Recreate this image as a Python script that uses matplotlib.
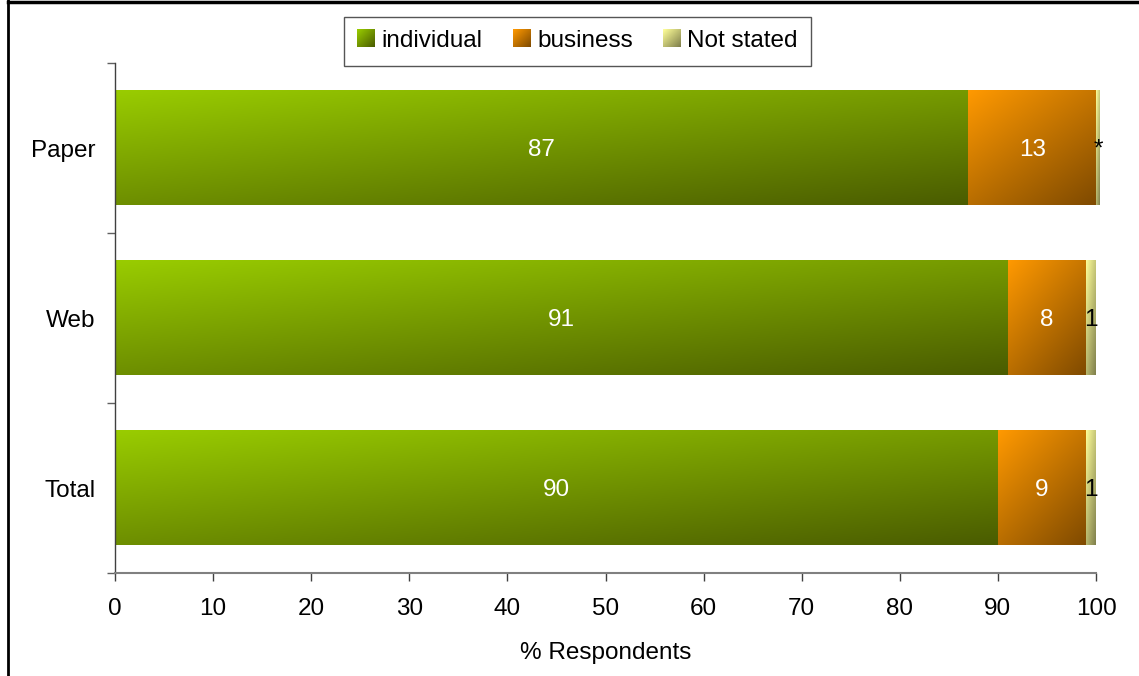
import numpy as np
import matplotlib
matplotlib.use("Agg")
import matplotlib.pyplot as plt
from matplotlib.colors import to_rgb
from matplotlib.patches import Rectangle
from matplotlib.legend_handler import HandlerBase
from matplotlib.image import BboxImage
from matplotlib.transforms import Bbox, TransformedBbox
from matplotlib.lines import Line2D

# Data
categories = ["Paper", "Web", "Total"]
series_names = ["individual", "business", "Not stated"]
individual = [87, 91, 90]
business = [13, 8, 9]
not_stated = [0.4, 1, 1]
not_stated_labels = ["*", "1", "1"]
x_ticks = [0, 10, 20, 30, 40, 50, 60, 70, 80, 90, 100]
x_label = "% Respondents"

# Gradient colour pairs (light top-left -> dark bottom-right)
gradients = {
    "individual": ("#99CC00", "#4A5C00"),
    "business": ("#FF9900", "#7F4A00"),
    "Not stated": ("#FFFF99", "#7F7F4C"),
}

plt.rcParams["font.family"] = ["Liberation Sans", "DejaVu Sans"]
FS = 17.5


def gradient_image(c0, c1, nx=120, ny=60, wu=0.45, wv=0.55):
    a = np.array(to_rgb(c0))
    b = np.array(to_rgb(c1))
    u = np.linspace(0, 1, nx)[None, :]
    v = np.linspace(0, 1, ny)[:, None]
    t = wu * u + wv * v
    return a[None, None, :] * (1 - t[..., None]) + b[None, None, :] * t[..., None]


fig = plt.figure(figsize=(11.39, 6.76), dpi=100)
ax = fig.add_axes([115 / 1139, 1 - 573 / 676, (1096 - 115) / 1139, (573 - 63) / 676])

bar_h = 0.676

for i, cat in enumerate(categories):
    left = 0.0
    for name, vals in zip(series_names, [individual, business, not_stated]):
        w = vals[i]
        c0, c1 = gradients[name]
        img = gradient_image(c0, c1)
        im = ax.imshow(img, extent=(left, left + w, i + bar_h / 2, i - bar_h / 2),
                       aspect="auto", interpolation="bilinear", zorder=2)
        im.set_clip_on(False)
        left += w
    # value labels
    y_lab = i + 0.01
    ax.text(individual[i] / 2, y_lab, f"{individual[i]:g}", color="white",
            ha="center", va="center", fontsize=FS, zorder=4)
    ax.text(individual[i] + business[i] / 2, y_lab, f"{business[i]:g}", color="white",
            ha="center", va="center", fontsize=FS, zorder=4)
    ax.text(individual[i] + business[i] + not_stated[i] / 2, y_lab, not_stated_labels[i],
            color="black", ha="center", va="center", fontsize=FS, zorder=4)

ax.set_xlim(0, 100)
ax.set_ylim(2.5, -0.5)

# Axes styling
for s in ["top", "right"]:
    ax.spines[s].set_visible(False)
ax.spines["left"].set_color("#404040")
ax.spines["bottom"].set_color("#808080")
ax.spines["left"].set_linewidth(1.0)
ax.spines["bottom"].set_linewidth(1.5)

ax.set_xticks(x_ticks)
ax.set_xticklabels([str(v) for v in x_ticks], fontsize=FS)
ax.tick_params(axis="x", direction="out", length=6, width=1, color="#404040", pad=12)

ax.set_yticks(range(len(categories)))
ax.set_yticklabels(categories, fontsize=FS)
ax.tick_params(axis="y", which="major", length=0, pad=14)
ax.set_yticks([-0.5, 0.5, 1.5, 2.5], minor=True)
ax.tick_params(axis="y", which="minor", direction="out", length=6, width=1, color="#606060")

xl = ax.set_xlabel(x_label, fontsize=FS)
xl.set_verticalalignment("center")
ax.xaxis.set_label_coords(0.5, -(653 - 573) / 510)


# Legend with gradient swatches
class GradientHandler(HandlerBase):
    def __init__(self, c0, c1):
        super().__init__()
        self.c0, self.c1 = c0, c1

    def create_artists(self, legend, orig_handle, xdescent, ydescent, width, height, fontsize, trans):
        bb = TransformedBbox(Bbox.from_bounds(-xdescent, -ydescent, width, height), trans)
        im = BboxImage(bb, interpolation="bilinear")
        im.set_data(gradient_image(self.c0, self.c1, 20, 20, 0.5, 0.5))
        return [im]


proxies = [Rectangle((0, 0), 1, 1) for _ in series_names]
hmap = {p: GradientHandler(*gradients[n]) for p, n in zip(proxies, series_names)}
leg = fig.legend(proxies, series_names, handler_map=hmap, loc="upper center",
                 bbox_to_anchor=(577.5 / 1139, 1 - 17 / 676), ncol=3, fontsize=FS,
                 frameon=True, fancybox=False, edgecolor="#555555", framealpha=1,
                 handlelength=0.7, handleheight=0.7, handletextpad=0.3,
                 columnspacing=1.25, borderpad=0.55, borderaxespad=0)
leg.get_frame().set_linewidth(1.0)

# Outer frame lines
fig.add_artist(Line2D([8 / 1139, 1], [1 - 2 / 676, 1 - 2 / 676], transform=fig.transFigure,
                      color="black", linewidth=2.5))
fig.add_artist(Line2D([8 / 1139, 8 / 1139], [0, 1], transform=fig.transFigure,
                      color="black", linewidth=2.0))

fig.savefig("out.png", dpi=100)
